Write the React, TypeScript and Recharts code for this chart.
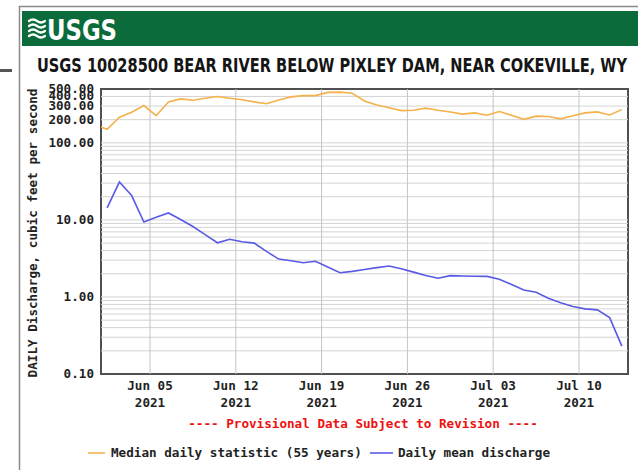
import React from "react";
import { LineChart, Line, XAxis, YAxis, ReferenceLine, ReferenceArea } from "recharts";

// ---------- data ----------
const dates = [
  "2021-05-31",
  "2021-06-01", "2021-06-02", "2021-06-03", "2021-06-04", "2021-06-05", "2021-06-06", "2021-06-07",
  "2021-06-08", "2021-06-09", "2021-06-10", "2021-06-11", "2021-06-12", "2021-06-13", "2021-06-14",
  "2021-06-15", "2021-06-16", "2021-06-17", "2021-06-18", "2021-06-19", "2021-06-20", "2021-06-21",
  "2021-06-22", "2021-06-23", "2021-06-24", "2021-06-25", "2021-06-26", "2021-06-27", "2021-06-28",
  "2021-06-29", "2021-06-30", "2021-07-01", "2021-07-02", "2021-07-03", "2021-07-04", "2021-07-05",
  "2021-07-06", "2021-07-07", "2021-07-08", "2021-07-09", "2021-07-10", "2021-07-11", "2021-07-12",
  "2021-07-13",
];

const median = [
  170,
  150, 215, 250, 305, 225, 340, 372, 358, 380, 400,
  380, 362, 340, 322, 360, 395, 410, 410, 452, 455,
  440, 350, 310, 285, 262, 265, 282, 265, 252, 236,
  245, 228, 255, 228, 202, 222, 220, 205, 225, 245,
  252, 230, 270,
];

const discharge = [
  null,
  14.3, 31, 20.7, 9.4, 10.8, 12.3, 10.1, 8.2, 6.45, 5.05,
  5.6, 5.2, 5.0, 3.9, 3.1, 2.95, 2.78, 2.9, 2.45, 2.06,
  2.15, 2.27, 2.4, 2.52, 2.32, 2.1, 1.9, 1.75, 1.89, 1.87,
  1.86, 1.85, 1.7, 1.45, 1.23, 1.15, 0.96, 0.84, 0.75, 0.7,
  0.68, 0.54, 0.23,
];

const xTickDates = ["2021-06-05", "2021-06-12", "2021-06-19", "2021-06-26", "2021-07-03", "2021-07-10"];
const xTickLabels = ["Jun 05", "Jun 12", "Jun 19", "Jun 26", "Jul 03", "Jul 10"];
const xTickYear = "2021";
const xDomainDates = ["2021-06-01", "2021-07-14"];

const yTicks = [0.1, 1, 10, 100, 200, 300, 400, 500];
const yGridValues = [
  0.2, 0.3, 0.4, 0.5, 0.6, 0.7, 0.8, 0.9, 1,
  2, 3, 4, 5, 6, 7, 8, 9, 10,
  20, 30, 40, 50, 60, 70, 80, 90, 100,
  200, 300, 400,
];
const yDomain = [0.1, 500];

const medianName = "Median daily statistic (55 years)";
const dischargeName = "Daily mean discharge";
const title = "USGS 10028500 BEAR RIVER BELOW PIXLEY DAM, NEAR COKEVILLE, WY";
const yLabel = "DAILY Discharge, cubic feet per second";
const provisional = "---- Provisional Data Subject to Revision ----";

// ---------- styles ----------
const MONO = "'DejaVu Sans Mono', 'Liberation Mono', monospace";
const NARROW = "'Liberation Sans Narrow', 'DejaVu Sans Condensed', 'Liberation Sans', sans-serif";
const ORANGE = "#f4b14c";
const BLUE = "#5a5ae4";
const TEXT = "#222";
const CHAR_W = 7.6;

const toNoon = (d: string) => Date.parse(d + "T12:00:00Z");
const toMidnight = (d: string) => Date.parse(d + "T00:00:00Z");

const rows = dates.map((d, i) => ({ t: toNoon(d), median: median[i], discharge: discharge[i] }));
const xTicks = xTickDates.map(toMidnight);
const xDomain = xDomainDates.map(toMidnight);

const YTick = (props: any) => {
  const { x, y, payload } = props;
  const s = Number(payload.value).toFixed(2);
  return (
    <text x={x + 1} y={y + 4} textAnchor="end" fontFamily={MONO} fontWeight="bold" fontSize={12}
      fill={TEXT} textLength={s.length * CHAR_W} lengthAdjust="spacingAndGlyphs">
      {s}
    </text>
  );
};

const XTick = (props: any) => {
  const { x, y, payload } = props;
  const idx = xTicks.indexOf(payload.value);
  const label = idx >= 0 ? xTickLabels[idx] : "";
  return (
    <g>
      <text x={x} y={y + 8} textAnchor="middle" fontFamily={MONO} fontWeight="bold" fontSize={12}
        fill={TEXT} textLength={label.length * CHAR_W} lengthAdjust="spacingAndGlyphs">
        {label}
      </text>
      <text x={x} y={y + 25} textAnchor="middle" fontFamily={MONO} fontWeight="bold" fontSize={12}
        fill={TEXT} textLength={xTickYear.length * CHAR_W} lengthAdjust="spacingAndGlyphs">
        {xTickYear}
      </text>
    </g>
  );
};

export default function App() {
  return (
    <div style={{ position: "absolute", left: 0, top: 0, width: 638, height: 470, background: "#fff", overflow: "hidden" }}>
      <LineChart
        width={638}
        height={470}
        data={rows}
        margin={{ top: 89, right: 10, bottom: 66, left: 41 }}
        style={{ position: "absolute", left: 0, top: 0 }}
      >
        <XAxis
          dataKey="t"
          type="number"
          domain={xDomain}
          ticks={xTicks}
          allowDataOverflow
          interval={0}
          height={30}
          axisLine={false}
          tickLine={false}
          tick={<XTick />}
        />
        <YAxis
          type="number"
          scale="log"
          domain={yDomain}
          ticks={yTicks}
          allowDataOverflow
          interval={0}
          width={60}
          axisLine={false}
          tickLine={false}
          tick={<YTick />}
        />
        {yGridValues.map((v) => (
          <ReferenceLine key={"h" + v} y={v} stroke="#d4d4d4" strokeWidth={1} />
        ))}
        {xTicks.map((t) => (
          <ReferenceLine key={"v" + t} x={t} stroke="#c4c4c4" strokeWidth={1} />
        ))}
        <Line type="linear" dataKey="median" name={medianName} stroke={ORANGE} strokeWidth={1.6}
          dot={false} activeDot={false} isAnimationActive={false} />
        <Line type="linear" dataKey="discharge" name={dischargeName} stroke={BLUE} strokeWidth={1.6}
          dot={false} activeDot={false} isAnimationActive={false} />
        <ReferenceArea x1={xDomain[0]} x2={xDomain[1]} y1={yDomain[0]} y2={yDomain[1]}
          fill="none" fillOpacity={0} stroke="#505050" strokeWidth={2} ifOverflow="visible" />
      </LineChart>

      <svg width={638} height={470} style={{ position: "absolute", left: 0, top: 0, pointerEvents: "none" }}>
        {/* outer frame of the page */}
        <rect x={19.5} y={6.5} width={640} height={470} fill="none" stroke="#8a8a8a" strokeWidth={1.5} />
        <rect x={0} y={69} width={12} height={3} fill="#555" />
        {/* header bar */}
        <rect x={22} y={11} width={616} height={35} fill="#0b6b3a" />
        <g stroke="#fff" strokeWidth={2.2} fill="none" strokeLinecap="round">
          <path d="M29 21 Q33 18 37 21 T45 21" />
          <path d="M29 26 Q33 23 37 26 T45 26" />
          <path d="M29 31 Q33 28 37 31 T45 31" />
          <path d="M29 36 Q33 33 37 36 T45 36" />
        </g>
        <text x={47} y={40} fontFamily={NARROW} fontWeight="bold" fontSize={29} fill="#fff"
          textLength={70} lengthAdjust="spacingAndGlyphs">USGS</text>
        {/* title */}
        <text x={37} y={72} fontFamily={NARROW} fontWeight="bold" fontSize={19} fill="#151515"
          textLength={590} lengthAdjust="spacingAndGlyphs">{title}</text>
        {/* y axis label */}
        <text x={0} y={0} transform="translate(37 233) rotate(-90)" textAnchor="middle" fontFamily={MONO}
          fontWeight="bold" fontSize={12} fill={TEXT} textLength={yLabel.length * CHAR_W}
          lengthAdjust="spacingAndGlyphs">{yLabel}</text>
        {/* provisional note */}
        <text x={363} y={428} textAnchor="middle" fontFamily={MONO} fontWeight="bold" fontSize={12}
          fill="#ee1111" textLength={provisional.length * CHAR_W} lengthAdjust="spacingAndGlyphs">{provisional}</text>
        {/* legend */}
        <line x1={88} y1={453} x2={105} y2={453} stroke={ORANGE} strokeWidth={1.6} />
        <text x={111} y={457} fontFamily={MONO} fontWeight="bold" fontSize={12} fill={TEXT}
          textLength={medianName.length * CHAR_W} lengthAdjust="spacingAndGlyphs">{medianName}</text>
        <line x1={370} y1={453} x2={393} y2={453} stroke={BLUE} strokeWidth={1.6} />
        <text x={398} y={457} fontFamily={MONO} fontWeight="bold" fontSize={12} fill={TEXT}
          textLength={dischargeName.length * CHAR_W} lengthAdjust="spacingAndGlyphs">{dischargeName}</text>
      </svg>
    </div>
  );
}
